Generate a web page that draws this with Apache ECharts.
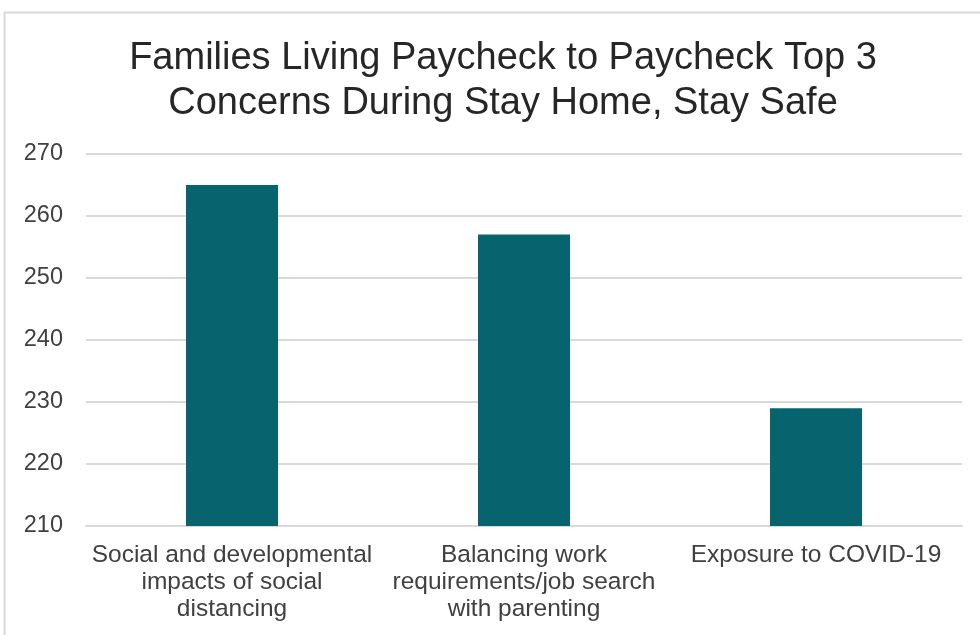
<!DOCTYPE html>
<html>
<head>
<meta charset="utf-8">
<script src="https://cdn.jsdelivr.net/npm/echarts@6/dist/echarts.min.js"></script>
<style>
  html, body { margin: 0; padding: 0; background: #ffffff; }
  #chart { width: 980px; height: 635px; }
</style>
</head>
<body>
<div id="chart"></div>
<script>
// Top concerns reported by families living paycheck to paycheck
const categories = [
  'Social and developmental\nimpacts of social\ndistancing',
  'Balancing work\nrequirements/job search\nwith parenting',
  'Exposure to COVID-19'
];
const responses = [265, 257, 229];
const yTicks = { min: 210, max: 270, step: 10 };

const chart = echarts.init(document.getElementById('chart'), null, { renderer: 'canvas' });

chart.setOption({
  backgroundColor: '#ffffff',
  animation: false,
  textStyle: { fontFamily: 'Liberation Sans, Arial, sans-serif' },
  title: {
    text: 'Families Living Paycheck to Paycheck Top 3\nConcerns During Stay Home, Stay Safe',
    left: 498,
    top: 31,
    textAlign: 'center',
    textStyle: {
      fontFamily: 'Liberation Sans, Arial, sans-serif',
      fontSize: 38,
      fontWeight: 'normal',
      color: '#262626',
      lineHeight: 45
    }
  },
  graphic: [{
    type: 'rect',
    shape: { x: 4.5, y: 12.5, width: 1100, height: 800 },
    style: { fill: 'none', stroke: '#d9d9d9', lineWidth: 2 },
    silent: true
  }],
  grid: { left: 86, right: 18, top: 154, bottom: 109 },
  xAxis: {
    type: 'category',
    data: categories,
    axisLine: { show: true, lineStyle: { color: '#d9d9d9', width: 2 } },
    axisTick: { show: false },
    axisLabel: {
      interval: 0,
      margin: 16,
      fontSize: 24.5,
      lineHeight: 27,
      color: '#404040',
      fontFamily: 'Liberation Sans, Arial, sans-serif'
    }
  },
  yAxis: {
    type: 'value',
    min: yTicks.min,
    max: yTicks.max,
    interval: yTicks.step,
    axisLine: { show: false },
    axisTick: { show: false },
    splitLine: { lineStyle: { color: '#d9d9d9', width: 2 } },
    axisLabel: {
      margin: 23,
      fontSize: 23.5,
      color: '#404040',
      fontFamily: 'Liberation Sans, Arial, sans-serif'
    }
  },
  series: [{
    type: 'bar',
    data: responses,
    barWidth: 92,
    itemStyle: { color: '#07646f' }
  }]
});
</script>
</body>
</html>
